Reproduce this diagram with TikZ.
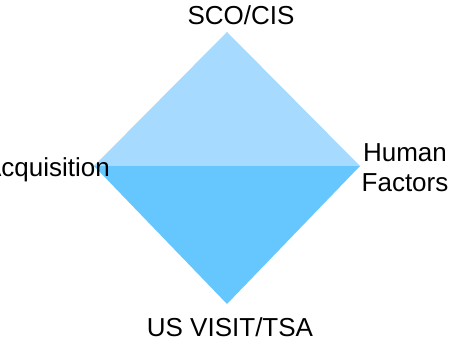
\documentclass[tikz,border=0pt]{standalone}
\usepackage{fontspec}
\setmainfont{Liberation Sans}
\definecolor{toplight}{RGB}{166,219,255}
\definecolor{botblue}{RGB}{102,199,255}
\tikzset{
  lbl/.style={inner sep=0pt, font=\fontsize{26}{30}\selectfont, text=black},
}
\begin{document}
\begin{tikzpicture}[x=1pt,y=1pt]
\useasboundingbox (0,0) rectangle (453,347);
\coordinate (T) at (227,315);
\coordinate (L) at (94,181);
\coordinate (R) at (360,181);
\coordinate (B) at (227,43);
\fill[botblue] (L) -- (R) -- (B) -- cycle;
\fill[toplight] (L) -- (T) -- (R) -- cycle;
\node[lbl, anchor=base] (sco) at (241,322) {SCO/CIS};
\node[lbl, anchor=base east] (acq) at (110,170) {Acquisition};
\node[lbl, anchor=north, align=center] (hf) at (405,204) {Human\\Factors};
\node[lbl, anchor=base] (us) at (230,10) {US VISIT/TSA};
\end{tikzpicture}
\end{document}
